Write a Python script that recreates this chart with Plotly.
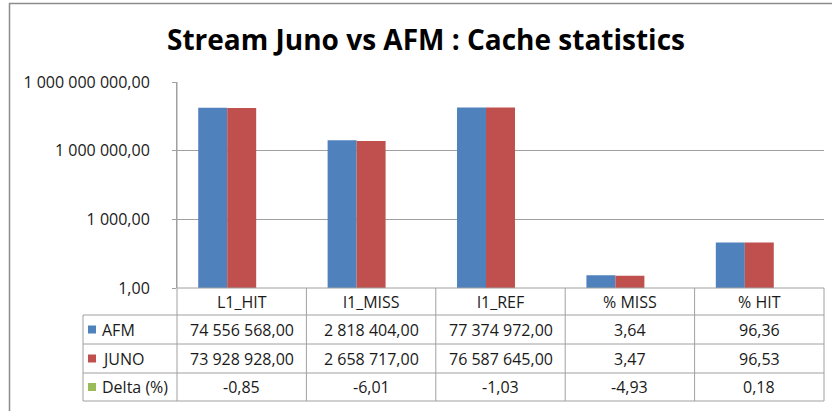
import plotly.graph_objects as go

# ---- data ----
categories = ["L1_HIT", "l1_MISS", "l1_REF", "% MISS", "% HIT"]
afm = [74556568.00, 2818404.00, 77374972.00, 3.64, 96.36]
juno = [73928928.00, 2658717.00, 76587645.00, 3.47, 96.53]
delta = [-0.85, -6.01, -1.03, -4.93, 0.18]
series_names = ["AFM", "JUNO", "Delta (%)"]
tick_vals = [1, 1e3, 1e6, 1e9]
tick_text = ["1,00", "1 000,00", "1 000 000,00", "1 000 000 000,00"]

colors = ["#4F81BD", "#C0504D", "#9BBB59"]
FONT = "Open Sans"
GRID = "#A0A0A0"

W, H = 832, 411
L, R, T, B = 177, 824, 82, 288


def px(x):
    return (x - L) / (R - L)


def py(y):
    return (B - y) / (B - T)


def fmt(v):
    s = f"{v:,.2f}"
    return s.replace(",", " ").replace(".", ",")


fig = go.Figure()
for name, vals, col in zip(series_names, [afm, juno, delta], colors):
    fig.add_trace(go.Bar(x=categories, y=vals, name=name, marker_color=col,
                         marker_line_width=0, showlegend=False))

shapes = []
annotations = []

# table geometry (pixels)
row_edges = [288, 315, 344, 373, 401]
leg_left = 83

line = dict(color=GRID, width=1)
# horizontal table lines
for i, ry in enumerate(row_edges):
    x0 = L if i == 0 else leg_left
    shapes.append(dict(type="line", xref="paper", yref="paper",
                       x0=px(x0), x1=1, y0=py(ry), y1=py(ry), line=line))
# vertical lines
shapes.append(dict(type="line", xref="paper", yref="paper", x0=px(leg_left), x1=px(leg_left),
                   y0=py(row_edges[1]), y1=py(row_edges[-1]), line=line))
shapes.append(dict(type="line", xref="paper", yref="paper", x0=0, x1=0,
                   y0=1, y1=py(row_edges[-1]), line=line))
n = len(categories)
for k in range(1, n + 1):
    shapes.append(dict(type="line", xref="paper", yref="paper", x0=k / n, x1=k / n,
                       y0=py(row_edges[0]), y1=py(row_edges[-1]), line=line))

# outer chart border
shapes.append(dict(type="rect", xref="paper", yref="paper",
                   x0=px(9.5), x1=px(860), y0=py(3.5), y1=py(440),
                   line=dict(color="#8C8C8C", width=1.5), fillcolor="rgba(0,0,0,0)", layer="below"))

tfont = dict(family=FONT, size=16, color="#1a1a1a")
# header row
hy = py((row_edges[0] + row_edges[1]) / 2)
for c in categories:
    annotations.append(dict(x=c, y=hy, xref="x", yref="paper", text=c, showarrow=False,
                            font=tfont, xanchor="center", yanchor="middle"))
# data rows
for r, (name, vals, col) in enumerate(zip(series_names, [afm, juno, delta], colors)):
    yc = (row_edges[r + 1] + row_edges[r + 2]) / 2
    for c, v in zip(categories, vals):
        annotations.append(dict(x=c, y=py(yc), xref="x", yref="paper", text=fmt(v),
                                showarrow=False, font=tfont, xanchor="center", yanchor="middle"))
    annotations.append(dict(x=px(100), y=py(yc), xref="paper", yref="paper", text=name,
                            showarrow=False, font=tfont, xanchor="left", yanchor="middle"))
    shapes.append(dict(type="rect", xref="paper", yref="paper",
                       x0=px(88), x1=px(96), y0=py(yc - 4), y1=py(yc + 4),
                       fillcolor=col, line=dict(width=0)))

fig.update_layout(
    width=W, height=H,
    margin=dict(l=L, r=W - R, t=T, b=H - B, pad=0),
    paper_bgcolor="white", plot_bgcolor="white",
    barmode="group", bargap=0.328, bargroupgap=0,
    title=dict(text="<b>Stream Juno vs AFM : Cache statistics</b>", x=426 / W, y=1 - 40 / H,
               xref="container", yref="container", xanchor="center", yanchor="middle",
               font=dict(family=FONT, size=28, color="#000000")),
    shapes=shapes, annotations=annotations,
    xaxis=dict(showticklabels=False, showgrid=False, zeroline=False, showline=False,
               ticks="", range=[-0.5, 4.5]),
    yaxis=dict(type="log", range=[0, 9], tickvals=tick_vals, ticktext=tick_text,
               showgrid=True, gridcolor=GRID, gridwidth=1, showline=True, linecolor=GRID,
               ticks="outside", ticklen=4, tickcolor=GRID, ticklabelstandoff=19,
               tickfont=dict(family=FONT, size=16, color="#1a1a1a"), zeroline=False),
)

fig.write_html("out.html", config={"displayModeBar": False},
               post_script="document.body.style.margin='0px';")
